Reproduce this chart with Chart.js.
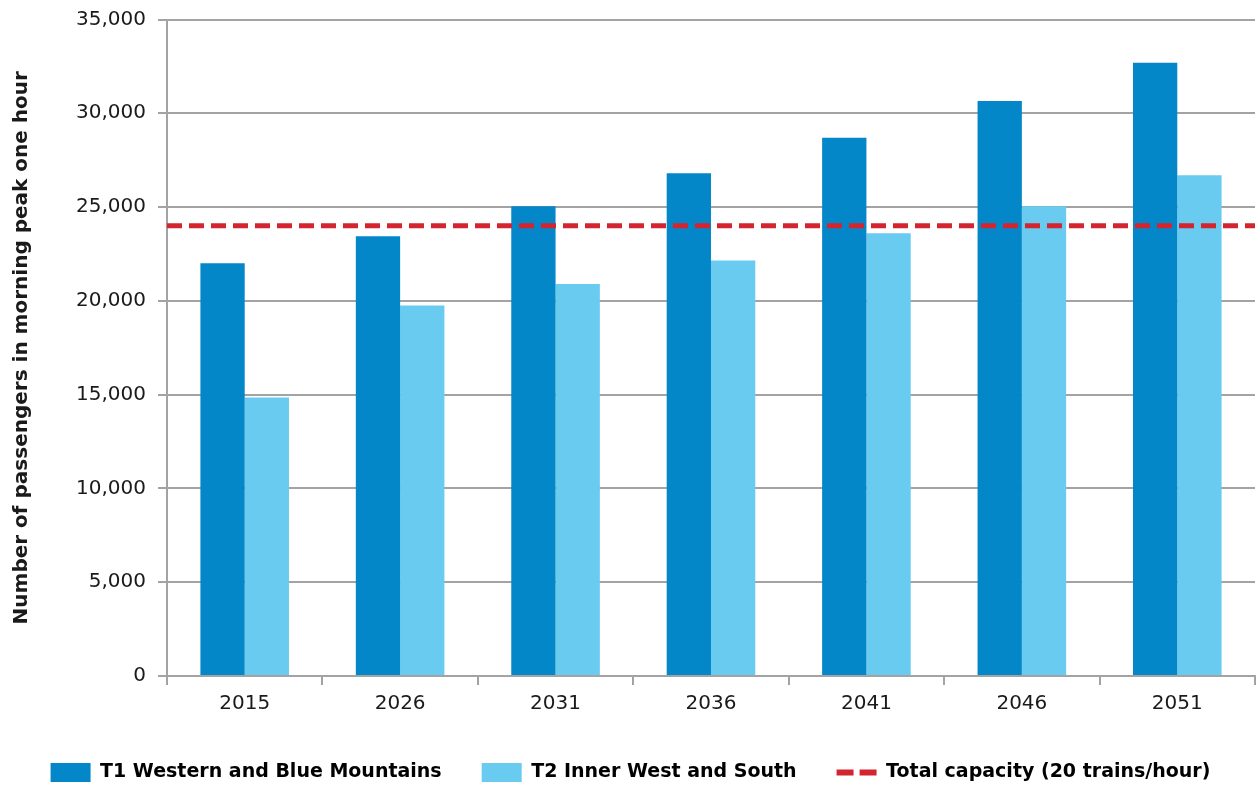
<!DOCTYPE html>
<html>
<head>
<meta charset="utf-8">
<script src="https://cdn.jsdelivr.net/npm/chart.js@4/dist/chart.umd.min.js"></script>
<style>
  html, body { margin: 0; padding: 0; background: #ffffff; }
  #wrap { width: 1259px; height: 785px; position: relative; }
</style>
</head>
<body>
<div id="wrap"><canvas id="c"></canvas></div>
<script>
const categories = ['2015', '2026', '2031', '2036', '2041', '2046', '2051'];
const t1Values = [22000, 23450, 25050, 26800, 28700, 30650, 32700];
const t2Values = [14850, 19750, 20900, 22150, 23600, 25050, 26700];
const capacityValue = 24000;
const yTicks = [0, 5000, 10000, 15000, 20000, 25000, 30000, 35000];
const seriesNames = ['T1 Western and Blue Mountains', 'T2 Inner West and South', 'Total capacity (20 trains/hour)'];

const FONT = '"DejaVu Sans", sans-serif';
const gridColor = '#a3a3a3';
const red = '#d3252f';

// Draws the capacity level across the full plot width, positioned by the y scale.
const capacityLine = {
  id: 'capacityLine',
  afterDatasetsDraw(chart) {
    const { ctx, chartArea, scales } = chart;
    const y = scales.y.getPixelForValue(capacityValue);
    ctx.save();
    ctx.strokeStyle = red;
    ctx.lineWidth = 5;
    ctx.setLineDash([15, 7]);
    ctx.beginPath();
    ctx.moveTo(chartArea.left, y);
    ctx.lineTo(chartArea.right, y);
    ctx.stroke();
    ctx.restore();
  }
};

new Chart(document.getElementById('c'), {
  type: 'bar',
  data: {
    labels: categories,
    datasets: [
      {
        type: 'bar', label: seriesNames[0], data: t1Values,
        backgroundColor: '#0487c9', borderWidth: 0,
        categoryPercentage: 0.57, barPercentage: 1.0
      },
      {
        type: 'bar', label: seriesNames[1], data: t2Values,
        backgroundColor: '#6acbf1', borderWidth: 0,
        categoryPercentage: 0.57, barPercentage: 1.0
      },
      {
        type: 'line', label: seriesNames[2], data: [],
        borderColor: red, backgroundColor: red,
        borderWidth: 5, borderDash: [15, 7], pointRadius: 0, fill: false
      }
    ]
  },
  plugins: [capacityLine],
  options: {
    responsive: true, maintainAspectRatio: false, animation: false,
    layout: { padding: { left: 6, right: 4, top: 0, bottom: -7 } },
    plugins: {
      tooltip: { enabled: false },
      legend: {
        position: 'bottom',
        labels: {
          font: { family: FONT, size: 19, weight: 'bold' },
          color: '#1a1a1a',
          boxWidth: 40, boxHeight: 20, padding: 40,
          usePointStyle: true, pointStyleWidth: 40,
          generateLabels(chart) {
            return chart.data.datasets.map((ds, i) => ({
              text: ds.label,
              fillStyle: ds.type === 'line' ? ds.borderColor : ds.backgroundColor,
              strokeStyle: ds.type === 'line' ? ds.borderColor : ds.backgroundColor,
              lineWidth: ds.type === 'line' ? 6 : 0,
              lineDash: ds.type === 'line' ? [17, 6] : [],
              pointStyle: ds.type === 'line' ? 'line' : 'rect',
              datasetIndex: i, hidden: false
            }));
          }
        }
      }
    },
    scales: {
      x: {
        type: 'category', offset: true,
        grid: { display: true, drawOnChartArea: false, drawTicks: true, tickLength: 9, color: gridColor, lineWidth: 2, offset: true },
        border: { display: true, color: gridColor, width: 2 },
        ticks: { font: { family: FONT, size: 20 }, color: '#1a1a1a', padding: 7 }
      },
      y: {
        min: 0, max: 35000,
        afterBuildTicks(axis) { axis.ticks = yTicks.map(v => ({ value: v })); },
        grid: { color: gridColor, lineWidth: 2, tickLength: 9, drawTicks: true },
        border: { display: true, color: gridColor, width: 2 },
        ticks: {
          font: { family: FONT, size: 20, lineHeight: 0.75 }, color: '#1a1a1a', padding: 12,
          callback: v => v.toLocaleString('en-US')
        },
        title: {
          display: true, text: 'Number of passengers in morning peak one hour',
          font: { family: FONT, size: 20, weight: 'bold' }, color: '#1a1a1a', padding: { bottom: 30 }
        }
      }
    }
  }
});
</script>
</body>
</html>
